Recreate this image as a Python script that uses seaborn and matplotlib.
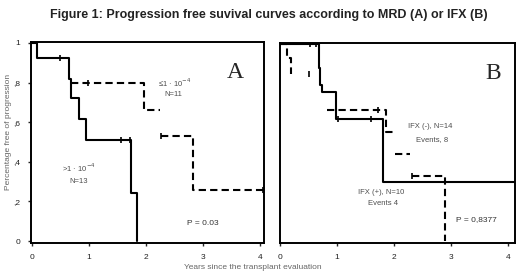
import matplotlib
matplotlib.use("Agg")
import matplotlib.pyplot as plt
import seaborn as sns

# panel A (MRD): step curves
a_high_t = [0, 0.09, 0.65, 0.69, 0.82, 0.95, 1.74, 1.84]
a_high_s = [1, 0.923, 0.82, 0.72, 0.615, 0.51, 0.24, 0]
a_high_cens_t = [0.49, 1.56, 1.71]
a_high_cens_s = [0.923, 0.51, 0.51]

a_low_segs = [([0.69, 1.96, 2.24], [0.80, 0.66, 0.66]),
              ([2.27, 2.83, 4.05], [0.53, 0.26, 0.26])]
a_low_cens_t = [0.98, 2.27, 4.05]
a_low_cens_s = [0.80, 0.53, 0.26]

# panel B (IFX)
b_pos_t = [0, 0.69, 0.71, 0.74, 0.99, 1.81, 4.12]
b_pos_s = [1, 0.88, 0.79, 0.755, 0.62, 0.30, 0.30]
b_pos_cens_t = [0.53, 0.63, 1.02, 1.60]
b_pos_cens_s = [1, 1, 0.62, 0.62]

b_neg_segs = [([0, 0.13, 0.19], [1, 0.93, 0.85]),
              ([0.82, 1.86, 1.99], [0.664, 0.555, 0.555]),
              ([2.01, 2.28], [0.44, 0.44]),
              ([2.31, 2.89, 2.89], [0.33, 0, 0])]
b_neg_cens_t = [0.51, 1.71, 2.32]
b_neg_cens_s = [0.85, 0.664, 0.33]

x_ticks = [0, 1, 2, 3, 4]
y_ticks = [0, 0.2, 0.4, 0.6, 0.8, 1]
y_tick_labels = ['0', ',2', ',4', ',6', ',8', '1']

sns.set_style('white')
plt.rcParams['font.family'] = ['Liberation Sans', 'DejaVu Sans']

fig = plt.figure(figsize=(5.2, 2.74), dpi=100)
axA = fig.add_axes([31/520, 31/274, 233/520, 201/274])
axB = fig.add_axes([280/520, 31/274, 235/520, 200/274])

dash = (0, (3.5, 2))
lw = 1.5


def steps(ax, t, s, ls='-'):
    sns.lineplot(x=t, y=s, ax=ax, color='black', lw=lw, linestyle=ls,
                 drawstyle='steps-post', sort=False, estimator=None)


def censor(ax, t, s):
    sns.scatterplot(x=t, y=s, ax=ax, color='black', marker='|', s=22,
                    linewidth=1.2)


steps(axA, a_high_t, a_high_s)
censor(axA, a_high_cens_t, a_high_cens_s)
for t, s in a_low_segs:
    steps(axA, t, s, dash)
censor(axA, a_low_cens_t, a_low_cens_s)

steps(axB, b_pos_t, b_pos_s)
censor(axB, b_pos_cens_t, b_pos_cens_s)
for t, s in b_neg_segs:
    steps(axB, t, s, dash)
censor(axB, b_neg_cens_t, b_neg_cens_s)

small = dict(fontsize=5.5, color='#4d4d4d')
axA.text(2.5, 0.80, '≤1 · 10$^{-4}$', ha='center', va='center', **small)
axA.text(2.47, 0.74, 'N=11', ha='center', va='center', **small)
axA.text(0.82, 0.37, '>1 · 10$^{-4}$', ha='center', va='center', **small)
axA.text(0.82, 0.30, 'N=13', ha='center', va='center', **small)
axA.text(3.0, 0.09, 'P = 0.03', ha='center', va='center', fontsize=6,
         color='#333333')
axA.text(3.56, 0.85, 'A', ha='center', va='center', fontsize=17,
         family='Liberation Serif')

axB.text(2.63, 0.58, 'IFX (-), N=14', ha='center', va='center', **small)
axB.text(2.67, 0.515, 'Events, 8', ha='center', va='center', **small)
axB.text(1.78, 0.245, 'IFX (+), N=10', ha='center', va='center', **small)
axB.text(1.8, 0.19, 'Events 4', ha='center', va='center', **small)
axB.text(3.44, 0.11, 'P = 0,8377', ha='center', va='center', fontsize=6,
         color='#333333')
axB.text(3.74, 0.85, 'B', ha='center', va='center', fontsize=17,
         family='Liberation Serif')

axA.set_xlim(-0.02, 4.07)
axB.set_xlim(0, 4.12)
for ax in (axA, axB):
    ax.set_ylim(-0.01, 1.005)
    ax.set_xticks(x_ticks)
    ax.set_xticklabels([str(v) for v in x_ticks])
    ax.tick_params(axis='both', length=2, width=1, direction='out',
                   labelsize=6, pad=6, bottom=True, left=True,
                   labelcolor='#222222')
    for sp in ax.spines.values():
        sp.set_linewidth(1.4)
        sp.set_color('black')
    ax.set_xlabel('')
    ax.set_ylabel('')
axA.set_yticks(y_ticks)
axA.set_yticklabels(y_tick_labels)
axB.set_yticks([])
axB.tick_params(left=False)

fig.text(0.516, 0.945, 'Figure 1: Progression free suvival curves according to MRD (A) or IFX (B)',
         ha='center', va='center', fontsize=9, fontweight='bold', color='#222222')
fig.text(0.487, 0.022, 'Years since the transplant evaluation', ha='center',
         va='center', fontsize=6, color='#666666')
fig.text(0.016, 0.52, 'Percentage free of progression', ha='center', va='center',
         rotation=90, fontsize=6, color='#666666')

fig.savefig('out.png', dpi=100)
